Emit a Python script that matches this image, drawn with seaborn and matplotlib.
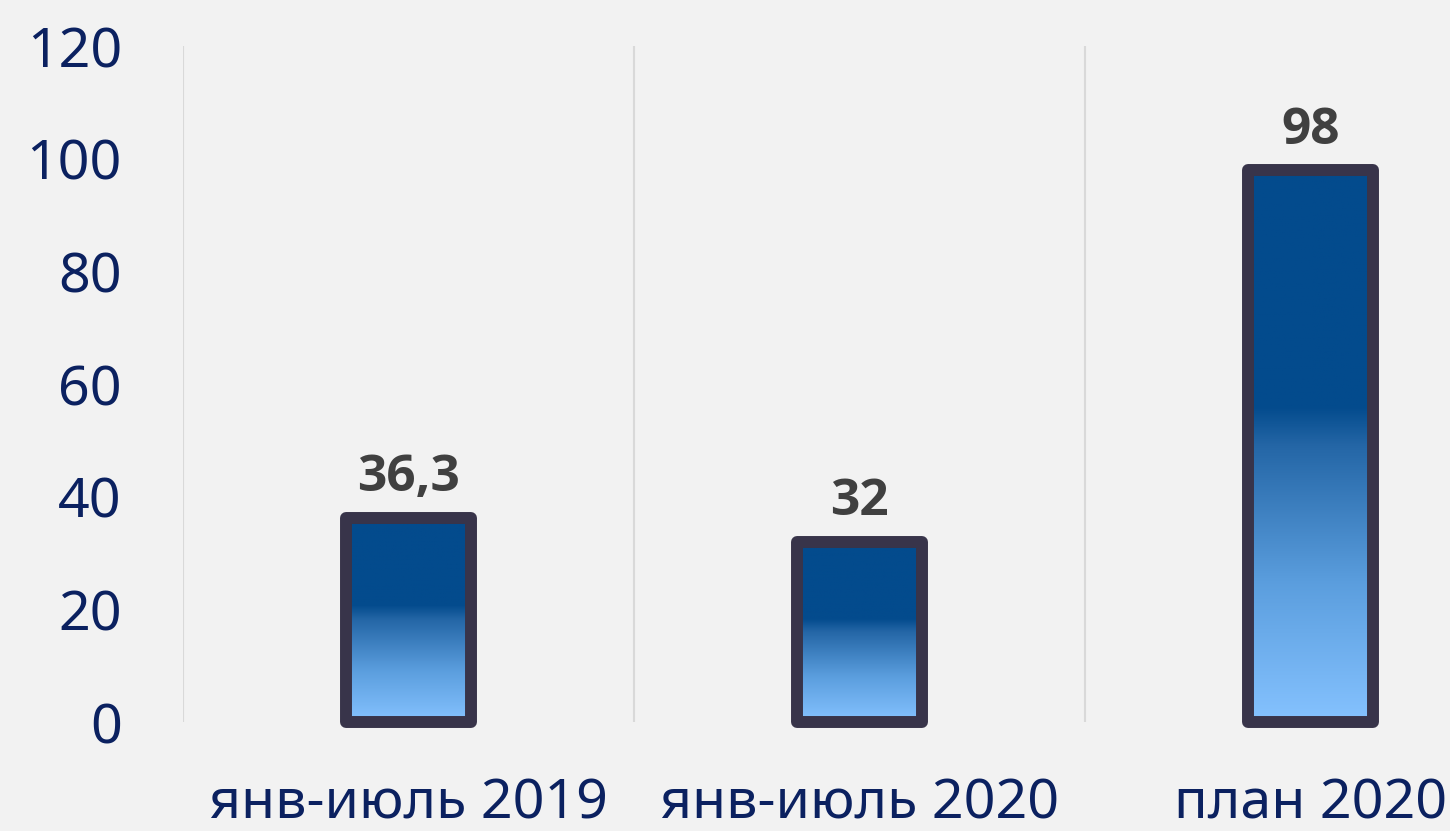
import numpy as np
import pandas as pd
import seaborn as sns
import matplotlib.pyplot as plt
from matplotlib.colors import LinearSegmentedColormap

# Data
periods = ['янв-июль 2019', 'янв-июль 2020', 'план 2020']
volumes = [36.3, 32, 98]
value_labels = ['36,3', '32', '98']

sns.set_style('white')
plt.rcParams['font.family'] = ['Noto Sans', 'DejaVu Sans']

bg = '#f2f2f2'
navy = '#0b2160'
edge = '#38344a'

fig = plt.figure(figsize=(14.5, 8.31), dpi=100, facecolor=bg)
ax = fig.add_axes([183 / 1450, 109 / 831, 1353 / 1450, 676 / 831])
ax.set_facecolor(bg)

df = pd.DataFrame({'period': periods, 'value': volumes})
sns.barplot(data=df, x='period', y='value', ax=ax, width=0.279,
            color='#034b8d', edgecolor=edge, linewidth=8.6, saturation=1)

# gradient fill: light at bottom, dark blue from ~57% upwards
cmap = LinearSegmentedColormap.from_list(
    'grad', [(0, '#85c2ff'), (0.25, '#5b9ede'), (0.5, '#2466a6'),
             (0.57, '#034b8d'), (1, '#034b8d')])
grad = np.linspace(0, 1, 256).reshape(-1, 1)
for p in ax.patches:
    x0, y0 = p.get_x(), p.get_y()
    w, h = p.get_width(), p.get_height()
    im = ax.imshow(grad, cmap=cmap, origin='lower', aspect='auto',
                   extent=[x0, x0 + w, y0, y0 + h], zorder=2)
    im.set_clip_path(p)
    p.set_facecolor('none')
    p.set_zorder(3)
    p.set_joinstyle('round')
    p.set_clip_on(False)

for i, (v, lab) in enumerate(zip(volumes, value_labels)):
    ax.annotate(lab, (i, v), xytext=(0, 19), textcoords='offset points',
                ha='center', va='baseline', fontsize=37, fontweight='bold',
                color='#404040', family=['Open Sans', 'DejaVu Sans'])

ax.set_xlim(-0.5, 2.5)
ax.set_ylim(0, 120)
ax.set_yticks(np.arange(0, 121, 20))
ax.set_xticks(range(len(periods)))
ax.set_xticklabels(periods)
ax.set_xticks([-0.5, 0.5, 1.5, 2.5], minor=True)
ax.grid(which='minor', axis='x', color='#d9d9d9', linewidth=1.5)
ax.grid(which='major', visible=False)
ax.set_axisbelow(True)
ax.tick_params(axis='y', labelsize=40, labelcolor=navy, length=0, pad=44)
ax.tick_params(axis='x', which='major', labelsize=40, labelcolor=navy, length=0, pad=39)
ax.tick_params(axis='x', which='minor', length=0)
ax.set_xlabel('')
ax.set_ylabel('')
sns.despine(ax=ax, left=True, bottom=True)

fig.savefig('out.png', dpi=100, facecolor=bg)
